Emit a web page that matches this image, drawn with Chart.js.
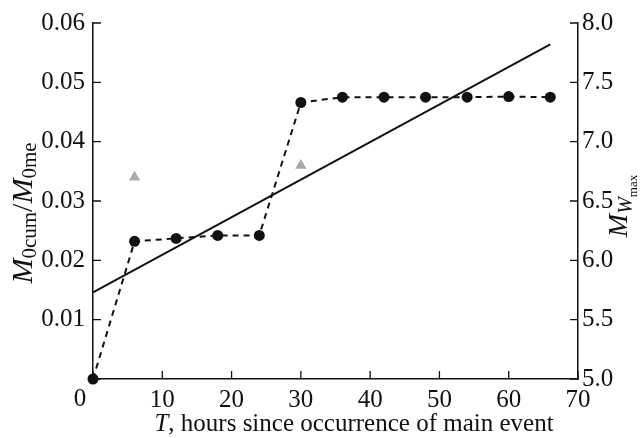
<!DOCTYPE html>
<html>
<head>
<meta charset="utf-8">
<script src="https://cdn.jsdelivr.net/npm/chart.js@4"></script>
<style>
  html, body { margin: 0; padding: 0; background: #fff; }
</style>
</head>
<body>
<canvas id="chart" width="641" height="438"></canvas>
<script>
// cumulative moment ratio, sampled every 6 h
const hours = [0, 6, 12, 18, 24, 30, 36, 42, 48, 54, 60, 66];
const momentRatio = [0, 0.0232, 0.0237, 0.0242, 0.0242, 0.0466, 0.0475, 0.0475, 0.0475, 0.0475, 0.0476, 0.0475];

// straight fit line (ends only)
const fitHours = [0, 66];
const fitRatio = [0.0146, 0.0564];

// largest aftershock magnitude (right axis)
const triHours = [6, 30];
const triMw = [6.7, 6.8];

const xRange = [0, 70];
const yRange = [0, 0.06];
const y2Range = [5, 8];

const FONT = "'Liberation Serif', 'Times New Roman', serif";
const INK = '#111';

function pairs(xs, ys) {
  return xs.map((x, i) => ({ x: x, y: ys[i] }));
}

function richText(ctx, parts, cx, cy, rot) {
  ctx.save();
  ctx.translate(cx, cy);
  ctx.rotate(rot);
  let w = 0;
  parts.forEach(p => {
    ctx.font = p.font;
    p.w = ctx.measureText(p.text).width;
    w += p.w;
  });
  let px = -w / 2;
  ctx.textBaseline = 'alphabetic';
  ctx.textAlign = 'left';
  ctx.fillStyle = INK;
  parts.forEach(p => {
    ctx.font = p.font;
    ctx.fillText(p.text, px, p.dy || 0);
    px += p.w;
  });
  ctx.restore();
}

// inward tick marks, corner "0" and the axis titles
const framePlugin = {
  id: 'frame',
  beforeDatasetsDraw(chart) {
    const ctx = chart.ctx;
    const { x, y, y2 } = chart.scales;
    const len = 8;
    ctx.save();
    ctx.strokeStyle = INK;
    ctx.lineWidth = 1.3;
    ctx.beginPath();
    x.ticks.forEach(t => {
      const px = x.getPixelForValue(t.value);
      ctx.moveTo(px, x.top);
      ctx.lineTo(px, x.top - len);
    });
    y.ticks.forEach(t => {
      const py = y.getPixelForValue(t.value);
      ctx.moveTo(y.right, py);
      ctx.lineTo(y.right + len, py);
    });
    y2.ticks.forEach(t => {
      const py = y2.getPixelForValue(t.value);
      ctx.moveTo(y2.left, py);
      ctx.lineTo(y2.left - len, py);
    });
    ctx.stroke();
    ctx.restore();
  },
  afterDraw(chart) {
    const ctx = chart.ctx;
    const { x } = chart.scales;
    ctx.save();
    ctx.fillStyle = INK;
    ctx.font = '25px ' + FONT;
    ctx.textAlign = 'center';
    ctx.textBaseline = 'middle';
    ctx.fillText('0', x.left - 13, x.top + 20);
    ctx.restore();

    const big = 'italic 30px ' + FONT;
    const sub = '21px ' + FONT;
    richText(ctx, [
      { text: 'M', font: big },
      { text: '0cum', font: sub, dy: 4 },
      { text: '/', font: '30px ' + FONT },
      { text: 'M', font: big },
      { text: '0me', font: sub, dy: 4 }
    ], 32, 213, -Math.PI / 2);

    richText(ctx, [
      { text: 'M', font: 'italic 28px ' + FONT },
      { text: 'W', font: 'italic 20px ' + FONT, dy: 5 },
      { text: 'max', font: '13px ' + FONT, dy: 10 }
    ], 627, 206, -Math.PI / 2);

    richText(ctx, [
      { text: 'T', font: 'italic 25px ' + FONT },
      { text: ', hours since occurrence of main event', font: '25px ' + FONT }
    ], 354, 431, 0);
  }
};

new Chart(document.getElementById('chart').getContext('2d'), {
  type: 'scatter',
  data: {
    datasets: [
      {
        label: 'M0cum/M0me',
        data: pairs(hours, momentRatio),
        yAxisID: 'y',
        showLine: true,
        borderColor: INK,
        borderWidth: 2,
        borderDash: [6, 5],
        pointRadius: 5.5,
        pointBackgroundColor: INK,
        pointBorderColor: INK,
        pointBorderWidth: 0,
        clip: false
      },
      {
        label: 'fit',
        data: pairs(fitHours, fitRatio),
        yAxisID: 'y',
        showLine: true,
        borderColor: INK,
        borderWidth: 2,
        pointRadius: 0,
        clip: false
      },
      {
        label: 'Mw max',
        data: pairs(triHours, triMw),
        yAxisID: 'y2',
        showLine: false,
        pointStyle: 'triangle',
        pointRadius: 6.5,
        pointBackgroundColor: '#aaaaaa',
        pointBorderColor: '#aaaaaa',
        pointBorderWidth: 0
      }
    ]
  },
  options: {
    responsive: false,
    animation: false,
    events: [],
    layout: { padding: { top: 20, left: 0, right: 0, bottom: 0 } },
    plugins: { legend: { display: false }, tooltip: { enabled: false } },
    scales: {
      x: {
        type: 'linear',
        min: xRange[0],
        max: xRange[1],
        afterFit: s => { s.height = 59; },
        grid: { display: false, drawTicks: false },
        border: { display: true, color: INK, width: 1.5 },
        ticks: {
          stepSize: 10,
          padding: 6,
          maxRotation: 0,
          color: INK,
          font: { family: FONT, size: 25 },
          callback: v => (v === 0 ? '' : String(v))
        }
      },
      y: {
        position: 'left',
        min: yRange[0],
        max: yRange[1],
        afterFit: s => { s.width = 93; },
        grid: { display: false, drawTicks: false },
        border: { display: true, color: INK, width: 1.5 },
        ticks: {
          stepSize: 0.01,
          padding: 8,
          color: INK,
          font: { family: FONT, size: 25 },
          callback: v => (v === 0 ? '' : v.toFixed(2))
        }
      },
      y2: {
        position: 'right',
        min: y2Range[0],
        max: y2Range[1],
        afterFit: s => { s.width = 63; },
        grid: { display: false, drawTicks: false },
        border: { display: true, color: INK, width: 1.5 },
        ticks: {
          stepSize: 0.5,
          padding: 4,
          color: INK,
          font: { family: FONT, size: 25 },
          callback: v => v.toFixed(1)
        }
      }
    }
  },
  plugins: [framePlugin]
});
</script>
</body>
</html>
